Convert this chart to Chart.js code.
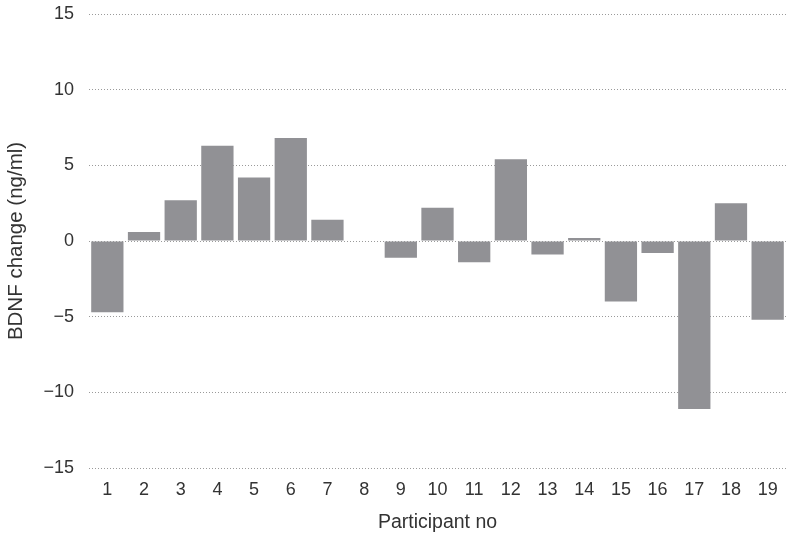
<!DOCTYPE html>
<html>
<head>
<meta charset="utf-8">
<script src="https://cdn.jsdelivr.net/npm/chart.js@4"></script>
<style>
  html, body { margin: 0; padding: 0; background: #fff; }
  #wrap { width: 800px; height: 543px; }
</style>
</head>
<body>
<div id="wrap"><canvas id="bdnf"></canvas></div>
<script>
const participants = ['1','2','3','4','5','6','7','8','9','10','11','12','13','14','15','16','17','18','19'];
const bdnfChange = [-4.7, 0.6, 2.7, 6.3, 4.2, 6.8, 1.4, 0, -1.1, 2.2, -1.4, 5.4, -0.9, 0.2, -4.0, -0.8, -11.1, 2.5, -5.2];
const yTicks = [-15, -10, -5, 0, 5, 10, 15];

const ctx = document.getElementById('bdnf');

new Chart(ctx, {
  type: 'bar',
  data: {
    labels: participants,
    datasets: [{
      label: 'BDNF change',
      data: bdnfChange,
      backgroundColor: '#919195',
      borderWidth: 0,
      categoryPercentage: 1,
      barPercentage: 0.88
    }]
  },
  options: {
    responsive: true,
    maintainAspectRatio: false,
    animation: false,
    layout: { padding: { top: 14, right: 14, left: 0, bottom: 0 } },
    plugins: {
      legend: { display: false },
      tooltip: { enabled: false }
    },
    scales: {
      x: {
        grid: { display: false, drawTicks: false },
        border: { display: false },
        ticks: {
          color: '#333',
          font: { family: 'Liberation Sans', size: 18 },
          padding: 11,
          maxRotation: 0
        },
        title: {
          display: true,
          text: 'Participant no',
          color: '#333',
          font: { family: 'Liberation Sans', size: 19.5 },
          padding: { top: 6, bottom: 9 }
        },
        afterFit: (axis) => { axis.height = 75; }
      },
      y: {
        min: -15,
        max: 15,
        afterBuildTicks: (axis) => { axis.ticks = yTicks.map(v => ({ value: v })); },
        grid: {
          color: '#9a9a9a',
          lineWidth: 1,
          drawTicks: false
        },
        border: { display: false, dash: [1, 2] },
        ticks: {
          color: '#333',
          font: { family: 'Liberation Sans', size: 18 },
          padding: 15,
          callback: (v) => v < 0 ? '\u2212' + Math.abs(v) : String(v)
        },
        title: {
          display: true,
          text: 'BDNF change (ng/ml)',
          color: '#333',
          font: { family: 'Liberation Sans', size: 20.5 },
          padding: { top: 4, bottom: 4 }
        },
        afterFit: (axis) => {
          axis.width = 89;
          axis.paddingTop = 0;
          axis.paddingBottom = 0;
        }
      }
    }
  }
});
</script>
</body>
</html>
